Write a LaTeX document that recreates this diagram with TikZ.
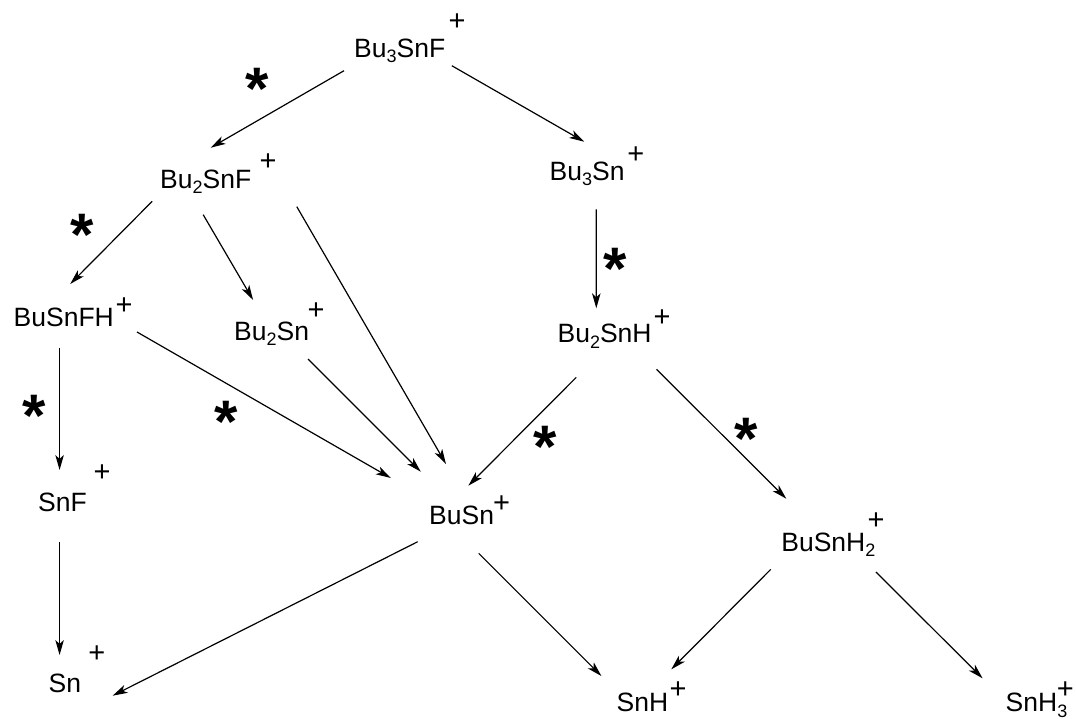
\documentclass[tikz,border=0pt]{standalone}
\usepackage{fontspec}
\setmainfont{Liberation Sans}
\usetikzlibrary{arrows.meta}
% lowered index digit in formulas
\newcommand\lo[1]{\raisebox{-5.5pt}{\fontsize{18pt}{18pt}\selectfont #1}}

\begin{document}
\begin{tikzpicture}[x=1pt,y=-1pt,
  species/.style={anchor=base west, inner sep=0pt, font=\fontsize{26.5pt}{26.5pt}\selectfont},
  charge/.style={anchor=base, inner sep=0pt, font=\fontsize{29pt}{29pt}\selectfont},
  starlabel/.style={anchor=base, inner sep=0pt, font=\fontsize{60pt}{60pt}\selectfont\bfseries},
  rxn/.style={-{Stealth[length=15pt,width=8.5pt,inset=4pt]}, line width=1.2pt},
]
\useasboundingbox (0,0) rectangle (1076,721);

% ions
\node[species] (t1)  at (354,57.3)    {Bu\lo{3}SnF};
\node[species] (t2)  at (160,188.3)   {Bu\lo{2}SnF};
\node[species] (t3)  at (549.5,180)   {Bu\lo{3}Sn};
\node[species] (t4)  at (13.5,326.7)  {BuSnFH};
\node[species] (t5)  at (234,340)     {Bu\lo{2}Sn};
\node[species] (t6)  at (557.4,342.7) {Bu\lo{2}SnH};
\node[species] (t7)  at (38,511.2)    {SnF};
\node[species] (t8)  at (429,524)     {BuSn};
\node[species] (t9)  at (781.2,551)   {BuSnH\lo{2}};
\node[species] (t10) at (48.5,692.3)  {Sn};
\node[species] (t11) at (616.5,711)   {SnH};
\node[species] (t12) at (1005.5,711.7){SnH\lo{3}};

% charges
\node[charge] (p1)  at (457,30.7)    {+};
\node[charge] (p2)  at (268,170)     {+};
\node[charge] (p3)  at (635.9,163.3) {+};
\node[charge] (p4)  at (124,314)     {+};
\node[charge] (p5)  at (316,319)     {+};
\node[charge] (p6)  at (662,326)     {+};
\node[charge] (p7)  at (102,481.7)   {+};
\node[charge] (p8)  at (501.7,512.7) {+};
\node[charge] (p9)  at (876.2,529.3) {+};
\node[charge] (p10) at (96.8,662.3)  {+};
\node[charge] (p11) at (678.2,698.3) {+};
\node[charge] (p12) at (1065.3,698.3){+};

% starred steps
\node[starlabel] (s1) at (257.6,109)   {*};
\node[starlabel] (s2) at (82.6,255.7)  {*};
\node[starlabel] (s3) at (34.4,436.3)  {*};
\node[starlabel] (s4) at (226.6,442.3) {*};
\node[starlabel] (s5) at (545.5,467)   {*};
\node[starlabel] (s6) at (746,459)     {*};
\node[starlabel] (s7) at (615.2,289.7) {*};

% fragmentation arrows
\draw[rxn] ([shift={(-10,13.4)}]t1.base west)   -- ([shift={(50.7,-40.6)}]t2.base west);
\draw[rxn] ([shift={(97.8,8.4)}]t1.base west)   -- ([shift={(34.7,-38.3)}]t3.base west);
\draw[rxn] ([shift={(-7.8,13)}]t2.base west)    -- ([shift={(56.7,-42.7)}]t4.base west);
\draw[rxn] ([shift={(43.2,26.4)}]t2.base west)  -- ([shift={(19.1,-40)}]t5.base west);
\draw[rxn] ([shift={(136.8,18.4)}]t2.base west) -- ([shift={(17,-60)}]t8.base west);
\draw[rxn] ([shift={(46.1,21.6)}]t4.base west)  -- ([shift={(21.6,-41.2)}]t7.base west);
\draw[rxn] ([shift={(123.5,5.3)}]t4.base west)  -- ([shift={(-38.2,-46)}]t8.base west);
\draw[rxn] ([shift={(74,19)}]t5.base west)      -- ([shift={(-8.2,-52.3)}]t8.base west);
\draw[rxn] ([shift={(18.9,34.6)}]t6.base west)  -- ([shift={(39.3,-38.3)}]t8.base west);
\draw[rxn] ([shift={(46.8,29.3)}]t3.base west)  -- ([shift={(38.9,-34.4)}]t6.base west);
\draw[rxn] ([shift={(99.1,26.6)}]t6.base west)  -- ([shift={(5.1,-52.3)}]t9.base west);
\draw[rxn] ([shift={(21.6,30.8)}]t7.base west)  -- ([shift={(11.1,-37.3)}]t10.base west);
\draw[rxn] ([shift={(-11.3,17.7)}]t8.base west) -- ([shift={(64.1,3.4)}]t10.base west);
\draw[rxn] ([shift={(49.7,29.3)}]t8.base west)  -- ([shift={(-15.1,-35)}]t11.base west);
\draw[rxn] ([shift={(-10.4,18.3)}]t9.base west) -- ([shift={(54.8,-41.7)}]t11.base west);
\draw[rxn] ([shift={(94.7,21)}]t9.base west)    -- ([shift={(-22.9,-33.4)}]t12.base west);
\end{tikzpicture}
\end{document}
